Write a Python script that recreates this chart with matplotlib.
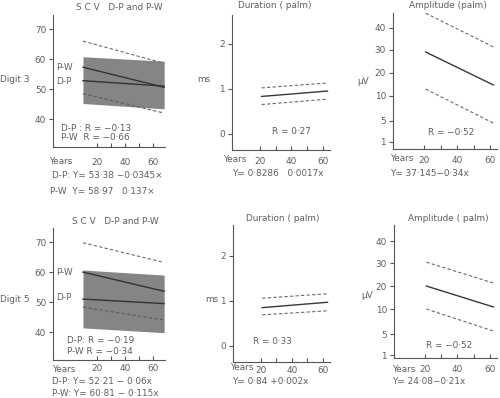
import numpy as np
import matplotlib
matplotlib.use("Agg")
from matplotlib import pyplot as plt

# ---- data ----
scv_x = [10, 68]
d3_pw = [57.3, 50.6]
d3_dp = [52.8, 51.0]
d3_scv_hi = [66.0, 58.6]
d3_scv_lo = [48.5, 42.0]
d3_band_lo = [45.2, 43.4]
d3_band_hi = [60.8, 59.3]

d5_pw = [60.0, 53.6]
d5_dp = [51.0, 49.5]
d5_scv_hi = [69.8, 63.2]
d5_scv_lo = [48.3, 44.0]
d5_band_lo = [41.4, 39.8]
d5_band_hi = [60.7, 59.0]

dur_x = [21, 63]
d3_dur = [0.83, 0.95]
d3_dur_hi = [1.02, 1.13]
d3_dur_lo = [0.65, 0.77]
d5_dur = [0.85, 0.97]
d5_dur_hi = [1.06, 1.16]
d5_dur_lo = [0.69, 0.78]

amp_x = [21, 62]
d3_amp = [29.1, 14.8]
d3_amp_hi = [46.7, 31.4]
d3_amp_lo = [13.0, 4.6]
d5_amp = [20.0, 10.9]
d5_amp_hi = [30.4, 21.3]
d5_amp_lo = [10.0, 5.6]

scv_ticks = [40, 50, 60, 70]
dur_ticks = [0, 1, 2]
amp_ticks = [1, 5, 10, 20, 30, 40]
year_ticks = [20, 30, 40, 50, 60]
year_labels = ["20", "", "40", "", "60"]

# uneven amplitude axis of the original
amp_vals = [0, 1, 5, 10, 20, 30, 40, 60]
amp_pos = [-10, 0, 21, 46, 69, 92, 114, 158]

W, H = 500, 398
TXT = "#5e5e5e"
LN = "#383838"
DS = "#6a6a6a"
FS = 6.4

plt.rcParams["font.family"] = ["DejaVu Sans"]
fig = plt.figure(figsize=(W / 100, H / 100), dpi=100)


def box(l, r, t, b):
    return [l / W, 1 - b / H, (r - l) / W, (b - t) / H]


def ftxt(x, y, s, **kw):
    fig.text(x / W, 1 - y / H, s, fontsize=FS, color=TXT, va="center", **kw)


def style(ax, yticks, xpad):
    for s in ("top", "right"):
        ax.spines[s].set_visible(False)
    for s in ("left", "bottom"):
        ax.spines[s].set_color("#555555")
        ax.spines[s].set_linewidth(0.8)
    ax.set_xticks(year_ticks)
    ax.set_xticklabels(year_labels)
    ax.set_yticks(yticks)
    ax.tick_params(axis="x", direction="in", length=3, pad=xpad, labelsize=FS,
                   colors="#555555", labelcolor=TXT)
    ax.tick_params(axis="y", direction="out", length=3, pad=2, labelsize=FS,
                   colors="#555555", labelcolor=TXT)
    ax.patch.set_alpha(0)


def triple(ax, x, mid, hi, lo):
    ax.plot(x, mid, color=LN, lw=1.0)
    ax.plot(x, hi, color=DS, lw=0.8, ls=(0, (3, 2)))
    ax.plot(x, lo, color=DS, lw=0.8, ls=(0, (3, 2)))


def scv(ax, band_lo, band_hi, pw, dp, hi, lo):
    ax.fill_between(scv_x, band_lo, band_hi, color="#858585", lw=0)
    ax.plot(scv_x, pw, color="#333333", lw=1.0)
    ax.plot(scv_x, dp, color="#333333", lw=1.0)
    ax.plot(scv_x, hi, color=DS, lw=0.8, ls=(0, (3, 2)))
    ax.plot(scv_x, lo, color="#5a5a5a", lw=0.8, ls=(0, (3, 2)))
    ax.set_xlim(-11.4, 68.6)
    ax.set_ylim(30.7, 74.7)


fwd = lambda v: np.interp(v, amp_vals, amp_pos)
inv = lambda p: np.interp(p, amp_pos, amp_vals)

# ---- top row: digit 3 ----
a1 = fig.add_axes(box(53, 165, 15, 147))
scv(a1, d3_band_lo, d3_band_hi, d3_pw, d3_dp, d3_scv_hi, d3_scv_lo)
style(a1, scv_ticks, 8)
a1.text(-9, 57.3, "P-W", fontsize=FS, color=TXT, va="center")
a1.text(-9, 52.5, "D-P", fontsize=FS, color=TXT, va="center")
a1.text(-6, 37.0, "D-P : R = −0·13", fontsize=FS, color=TXT, va="center")
a1.text(-6, 33.7, "P-W  R = −0·66", fontsize=FS, color=TXT, va="center")

a2 = fig.add_axes(box(232, 330, 15, 150))
triple(a2, dur_x, d3_dur, d3_dur_hi, d3_dur_lo)
a2.set_xlim(2.2, 64.6)
a2.set_ylim(-0.36, 2.64)
style(a2, dur_ticks, 5)
a2.text(27.6, 0.05, "R = 0·27", fontsize=FS, color=TXT, va="center")

a3 = fig.add_axes(box(393, 497, 13, 149))
a3.set_yscale("function", functions=(fwd, inv))
triple(a3, amp_x, d3_amp, d3_amp_hi, d3_amp_lo)
a3.set_xlim(1.2, 64.2)
a3.set_ylim(0.3, 46.8)
style(a3, amp_ticks, 5)
a3.text(22.4, 2.9, "R = −0·52", fontsize=FS, color=TXT, va="center")

# ---- bottom row: digit 5 ----
b1 = fig.add_axes(box(53, 165, 228, 360))
scv(b1, d5_band_lo, d5_band_hi, d5_pw, d5_dp, d5_scv_hi, d5_scv_lo)
style(b1, scv_ticks, 3)
b1.text(-9, 60.0, "P-W", fontsize=FS, color=TXT, va="center")
b1.text(-9, 51.5, "D-P", fontsize=FS, color=TXT, va="center")
b1.text(-1.5, 37.3, "D-P: R = −0·19", fontsize=FS, color=TXT, va="center")
b1.text(-1.5, 33.7, "P-W R = −0·34", fontsize=FS, color=TXT, va="center")

b2 = fig.add_axes(box(233, 330, 225, 362))
triple(b2, dur_x, d5_dur, d5_dur_hi, d5_dur_lo)
b2.set_xlim(2.2, 64.6)
b2.set_ylim(-0.36, 2.69)
style(b2, dur_ticks, 3)
b2.text(15, 0.09, "R = 0·33", fontsize=FS, color=TXT, va="center")

b3 = fig.add_axes(box(394, 497, 225, 358))
b3.set_yscale("function", functions=(fwd, inv))
triple(b3, amp_x, d5_amp, d5_amp_hi, d5_amp_lo)
b3.set_xlim(1.2, 64.2)
b3.set_ylim(0.7, 47.3)
style(b3, amp_ticks, 5)
b3.text(20.6, 2.9, "R = −0·52", fontsize=FS, color=TXT, va="center")

# ---- titles and labels ----
ftxt(119, 7, "S C V   D-P and P-W", ha="center")
ftxt(275, 6, "Duration ( palm)", ha="center")
ftxt(448, 5, "Amplitude (palm)", ha="center")
ftxt(115, 221, "S C V   D-P and P-W", ha="center")
ftxt(283, 218, "Duration ( palm)", ha="center")
ftxt(448, 218, "Amplitude ( palm)", ha="center")

ftxt(0, 80, "Digit 3")
ftxt(0, 300, "Digit 5")
ftxt(197, 80, "ms")
ftxt(205, 300, "ms")
ftxt(357, 81, "μV")
ftxt(361, 296, "μV")

ftxt(49, 162, "Years")
ftxt(52, 176, "D-P: Y= 53·38 −0·0345×")
ftxt(50, 191, "P-W  Y= 58·97   0·137×")
ftxt(223, 160, "Years")
ftxt(232, 173, "Y= 0·8286   0·0017x")
ftxt(390, 158, "Years")
ftxt(390, 173, "Y= 37·145−0·34x")

ftxt(52, 369, "Years")
ftxt(52, 382, "D-P: Y= 52·21 − 0·06x")
ftxt(52, 394, "P-W: Y= 60·81 − 0·115x")
ftxt(230, 368, "Years")
ftxt(232, 382, "Y= 0·84 +0·002x")
ftxt(392, 370, "Years")
ftxt(392, 382, "Y= 24·08−0·21x")

fig.savefig("out.png", dpi=100, facecolor="white")
